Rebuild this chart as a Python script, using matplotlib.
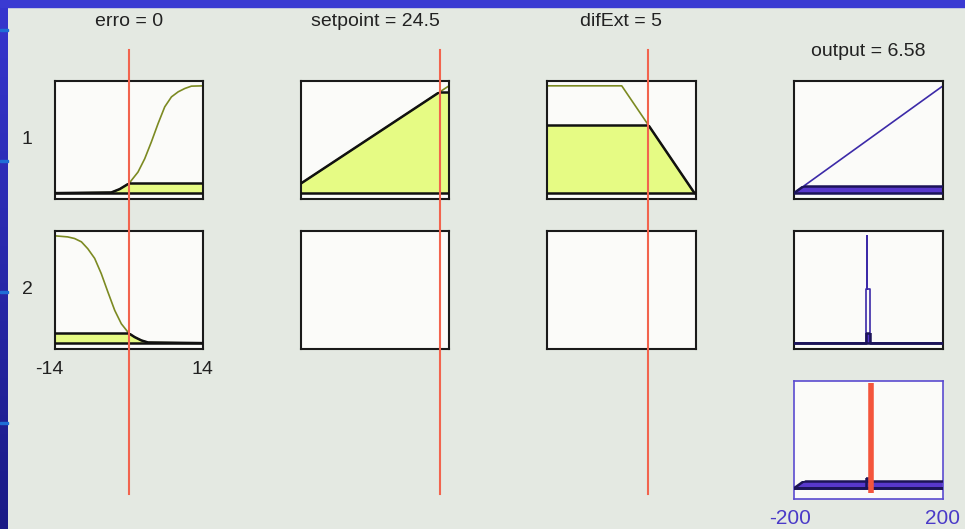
import numpy as np
import matplotlib
matplotlib.use("Agg")
import matplotlib.pyplot as plt
from matplotlib.patches import Polygon, Rectangle
from matplotlib.lines import Line2D

W, H = 965, 529

# inputs / output of the fuzzy system
input_names = ["erro", "setpoint", "difExt"]
input_values = [0, 24.5, 5]
input_ranges = [(-14, 14), (17, 25), (-5, 9.75)]
output_name = "output"
output_value = 6.58
output_range = (-200, 200)

# membership functions
erro_mf1_x = [-14, -3.35, -1.77, 0, 1.7, 2.97, 4.23, 5.5, 6.76, 8.03, 9.3, 10.55, 11.8, 14]
erro_mf1_y = [0, 0.006, 0.037, 0.09, 0.196, 0.32, 0.477, 0.648, 0.804, 0.897, 0.944, 0.975, 0.997, 1.0]
erro_mf2_x = [-14, -11.6, -10.3, -9.0, -7.8, -6.5, -5.25, -4.0, -2.7, -1.45, 0, 1.07, 2.34, 3.6, 14]
erro_mf2_y = [1.0, 0.99, 0.975, 0.944, 0.88, 0.79, 0.648, 0.477, 0.305, 0.18, 0.09, 0.056, 0.025, 0.006, 0]
setpoint_mf1_x = [17, 25]
setpoint_mf1_y = [0.09, 1.0]
difext_mf1_x = [-5, 2.4, 9.6, 9.75]
difext_mf1_y = [1, 1, 0, 0]
out_mf1_x = [-200, 200]
out_mf1_y = [0, 1]
out_mf2_x = [-200, -6.7, -6.7, -3.2, -3.2, -3.2, 3.5, 3.5, 200]
out_mf2_y = [0, 0, 0.5, 0.5, 1.0, 0.5, 0.5, 0, 0]
rule_levels = [0.068, 0.095]

# panel edges in pixels
col_x = [(55, 203), (301, 449), (547, 696), (794, 943)]
row_y = [(81, 199), (231, 349)]
agg_y = (381, 499)

BG = "#e4e9e2"
AX_BG = "#fbfbf9"
YELLOW = "#e6fb84"
OLIVE = "#7c8a22"
PURPLE_LINE = "#3c2aa8"
PURPLE_FILL = "#5838cc"
RED = "#f2644e"

plt.rcParams["font.family"] = ["Liberation Sans", "DejaVu Sans"]


def fig_rect(x0, x1, y0, y1):
    return [x0 / W, 1 - y1 / H, (x1 - x0) / W, (y1 - y0) / H]


def make_panel(fig, xs, ys, xlim, ylim=(-0.055, 1.045), edge="#1a1a1a", lw=1.5):
    ax = fig.add_axes(fig_rect(xs[0], xs[1], ys[0], ys[1]))
    ax.set_facecolor(AX_BG)
    ax.set_xlim(*xlim)
    ax.set_ylim(*ylim)
    ax.set_xticks([])
    ax.set_yticks([])
    for sp in ax.spines.values():
        sp.set_color(edge)
        sp.set_linewidth(lw)
    return ax


def draw_mf(ax, xs, ys, level, line_c, fill_c, edge_c, show_line=True):
    """MF outline plus its area clipped at the given level."""
    lo, hi = ax.get_xlim()
    pts = [(xs[0], 0)] + list(zip(xs, ys)) + [(xs[-1], 0)]
    area = Polygon(pts, closed=True, facecolor=fill_c, edgecolor="none", zorder=1)
    ax.add_patch(area)
    cap = Rectangle((lo, -1), hi - lo, level + 1, transform=ax.transData)
    area.set_clip_path(cap)
    if show_line:
        ax.plot(xs, ys, color=line_c, lw=1.2, zorder=2)
    edge, = ax.plot(xs, ys, color=edge_c, lw=1.8, zorder=3)
    edge.set_clip_path(cap)
    top, = ax.plot([lo, hi], [level, level], color=edge_c, lw=1.8, zorder=3)
    top.set_clip_path(Polygon(pts, closed=True, transform=ax.transData))
    ax.plot([lo, hi], [0, 0], color=edge_c, lw=1.8, zorder=3)


fig = plt.figure(figsize=(W / 100, H / 100), dpi=100, facecolor=BG)

# slide border: blue strip on the left and on top
side = fig.add_axes([0, 0, 8 / W, 1])
side.imshow(np.linspace(0, 1, 200).reshape(-1, 1), aspect="auto", extent=(0, 1, 0, 1),
            cmap=matplotlib.colors.LinearSegmentedColormap.from_list("b", ["#3636cf", "#1a1a86"]))
side.set_axis_off()
for yy in [30, 161, 292, 423]:
    fig.add_artist(Rectangle((0, 1 - (yy + 1) / H), 8 / W, 2 / H, transform=fig.transFigure,
                             color="#1e6ed6", zorder=5))
fig.add_artist(Rectangle((0, 1 - 7 / H), 1, 7 / H, transform=fig.transFigure, color="#3a3ad2", zorder=5))

erro_mfs = [(erro_mf1_x, erro_mf1_y), (erro_mf2_x, erro_mf2_y)]
setpoint_mfs = [(setpoint_mf1_x, setpoint_mf1_y), None]
difext_mfs = [(difext_mf1_x, difext_mf1_y), None]
out_mfs = [(out_mf1_x, out_mf1_y), (out_mf2_x, out_mf2_y)]

# input columns
for c, mfs in enumerate([erro_mfs, setpoint_mfs, difext_mfs]):
    for r in range(2):
        ax = make_panel(fig, col_x[c], row_y[r], input_ranges[c])
        if mfs[r] is None:
            continue
        xs, ys = mfs[r]
        deg = float(np.interp(input_values[c], xs, ys))
        draw_mf(ax, xs, ys, deg, OLIVE, YELLOW, "#111111")

# output column
for r in range(2):
    ax = make_panel(fig, col_x[3], row_y[r], output_range)
    xs, ys = out_mfs[r]
    draw_mf(ax, xs, ys, rule_levels[r], PURPLE_LINE, PURPLE_FILL, "#1c1458")

# aggregated output
agg = make_panel(fig, col_x[3], agg_y, output_range, ylim=(-0.1, 1.0), edge="#5b4bd0", lw=1.2)
for (xs, ys), lvl in zip(out_mfs, rule_levels):
    draw_mf(agg, xs, ys, lvl, PURPLE_LINE, PURPLE_FILL, "#1c1458", show_line=False)
agg.plot([output_value, output_value], [-0.04, 0.98], color="#f4553c", lw=4,
         solid_capstyle="butt", zorder=6)

# input value markers across both rows
for c in range(3):
    lo, hi = input_ranges[c]
    x0, x1 = col_x[c]
    fx = (x0 + (input_values[c] - lo) / (hi - lo) * (x1 - x0)) / W
    fig.add_artist(Line2D([fx, fx], [1 - 50 / H, 1 - 494 / H], transform=fig.transFigure,
                          color=RED, lw=1.5))

# titles
txt = dict(fontsize=14, color="#222222", ha="center", va="center")
for c in range(3):
    cx = (col_x[c][0] + col_x[c][1]) / 2 / W
    fig.text(cx, 1 - 22 / H, f"{input_names[c]} = {input_values[c]:g}", **txt)
fig.text((col_x[3][0] + col_x[3][1]) / 2 / W, 1 - 52 / H, f"{output_name} = {output_value:.2f}", **txt)

# rule numbers
fig.text(27 / W, 1 - 139 / H, "1", **txt)
fig.text(27 / W, 1 - 290 / H, "2", **txt)

# range labels
fig.text(49 / W, 1 - 370 / H, f"{input_ranges[0][0]}", **txt)
fig.text(202 / W, 1 - 370 / H, f"{input_ranges[0][1]}", **txt)
blue_txt = dict(txt, color="#4a3ac8", fontsize=15)
fig.text(790 / W, 1 - 519 / H, f"{output_range[0]}", **blue_txt)
fig.text(943 / W, 1 - 519 / H, f"{output_range[1]}", **blue_txt)

fig.savefig("out.png", dpi=100, facecolor=BG)
